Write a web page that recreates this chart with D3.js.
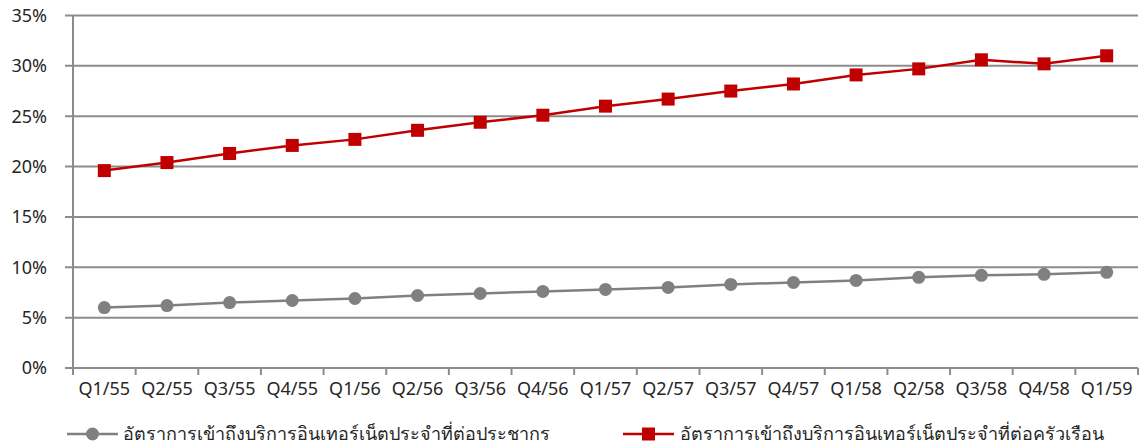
<!DOCTYPE html>
<html>
<head>
<meta charset="utf-8">
<script src="https://cdn.jsdelivr.net/npm/d3@7"></script>
<style>
  html, body { margin: 0; padding: 0; background: #fff; }
  svg text { font-family: "Noto Sans", "DejaVu Sans", sans-serif; fill: #262626; }
</style>
</head>
<body>
<svg id="chart" width="1140" height="445"></svg>
<script>
// Quarterly internet access rates (percent)
const quarters = ["Q1/55","Q2/55","Q3/55","Q4/55","Q1/56","Q2/56","Q3/56","Q4/56",
                  "Q1/57","Q2/57","Q3/57","Q4/57","Q1/58","Q2/58","Q3/58","Q4/58","Q1/59"];
const perPopulation = [6.0, 6.2, 6.5, 6.7, 6.9, 7.2, 7.4, 7.6, 7.8, 8.0, 8.3, 8.5, 8.7, 9.0, 9.2, 9.3, 9.5];
const perHousehold  = [19.6, 20.4, 21.3, 22.1, 22.7, 23.6, 24.4, 25.1, 26.0, 26.7, 27.5, 28.2, 29.1, 29.7, 30.6, 30.2, 31.0];
const yTicks = [0, 5, 10, 15, 20, 25, 30, 35];
const seriesNames = ["อัตราการเข้าถึงบริการอินเทอร์เน็ตประจำที่ต่อประชากร",
                     "อัตราการเข้าถึงบริการอินเทอร์เน็ตประจำที่ต่อครัวเรือน"];

const svg = d3.select("#chart");
const plotLeft = 73, plotRight = 1138, plotTop = 15.5, plotBottom = 368;

const x = d3.scaleBand().domain(quarters).range([plotLeft, plotRight]).paddingInner(0).paddingOuter(0);
const y = d3.scaleLinear().domain([0, 35]).range([plotBottom, plotTop]);
const cx = d => x(d) + x.bandwidth() / 2;

// horizontal gridlines with left tick stubs
svg.append("g").selectAll("line").data(yTicks).join("line")
  .attr("x1", plotLeft - 8).attr("x2", plotRight)
  .attr("y1", d => y(d)).attr("y2", d => y(d))
  .attr("stroke", "#8c8c8c").attr("stroke-width", 2);

// y tick labels
svg.append("g").selectAll("text").data(yTicks).join("text")
  .attr("x", 47).attr("y", d => y(d)).attr("dy", "0.35em")
  .attr("text-anchor", "end").attr("font-size", 18)
  .text(d => d + "%");

// vertical axis line
svg.append("line").attr("x1", plotLeft).attr("x2", plotLeft)
  .attr("y1", plotTop).attr("y2", plotBottom + 7)
  .attr("stroke", "#8c8c8c").attr("stroke-width", 2);

// x tick marks at category boundaries
const bounds = quarters.map(q => x(q)).concat([plotRight]);
svg.append("g").selectAll("line").data(bounds).join("line")
  .attr("x1", d => d).attr("x2", d => d)
  .attr("y1", plotBottom).attr("y2", plotBottom + 7)
  .attr("stroke", "#8c8c8c").attr("stroke-width", 2);

// x labels
svg.append("g").selectAll("text").data(quarters).join("text")
  .attr("x", d => cx(d)).attr("y", 395)
  .attr("text-anchor", "middle").attr("font-size", 18)
  .text(d => d);

const line = d3.line().x((d, i) => cx(quarters[i])).y(d => y(d));

// population series: grey line with circles
svg.append("path").datum(perPopulation).attr("d", line)
  .attr("fill", "none").attr("stroke", "#808080").attr("stroke-width", 2.5);
svg.append("g").selectAll("circle").data(perPopulation).join("circle")
  .attr("cx", (d, i) => cx(quarters[i])).attr("cy", d => y(d)).attr("r", 6.5)
  .attr("fill", "#808080");

// household series: red line with squares
svg.append("path").datum(perHousehold).attr("d", line)
  .attr("fill", "none").attr("stroke", "#c00000").attr("stroke-width", 2.5);
svg.append("g").selectAll("rect").data(perHousehold).join("rect")
  .attr("x", (d, i) => cx(quarters[i]) - 6.5).attr("y", d => y(d) - 6.5)
  .attr("width", 13).attr("height", 13).attr("fill", "#c00000");

// legend
const ly = 434;
const lg = svg.append("g");
lg.append("line").attr("x1", 67).attr("x2", 118).attr("y1", ly).attr("y2", ly)
  .attr("stroke", "#808080").attr("stroke-width", 2.5);
lg.append("circle").attr("cx", 92.5).attr("cy", ly).attr("r", 6.5).attr("fill", "#808080");
lg.append("text").attr("x", 123).attr("y", ly).attr("dy", "0.35em").attr("font-size", 18)
  .text(seriesNames[0]);
lg.append("line").attr("x1", 623).attr("x2", 674).attr("y1", ly).attr("y2", ly)
  .attr("stroke", "#c00000").attr("stroke-width", 2.5);
lg.append("rect").attr("x", 642).attr("y", ly - 6.5).attr("width", 13).attr("height", 13).attr("fill", "#c00000");
lg.append("text").attr("x", 680).attr("y", ly).attr("dy", "0.35em").attr("font-size", 18)
  .text(seriesNames[1]);
</script>
</body>
</html>
